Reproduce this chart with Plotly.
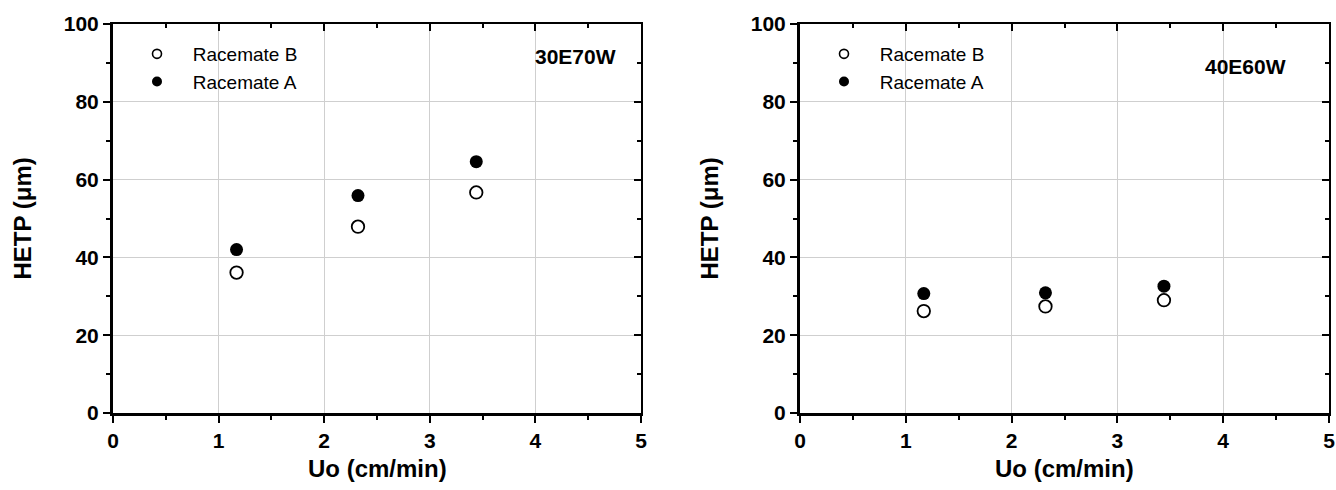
import plotly.graph_objects as go

# ---- data ----
uo = [1.17, 2.32, 3.44]
left_racemate_b = [36.1, 47.9, 56.7]
left_racemate_a = [42.0, 55.9, 64.6]
right_racemate_b = [26.2, 27.4, 29.0]
right_racemate_a = [30.7, 30.9, 32.6]
panel_labels = ["30E70W", "40E60W"]
series_names = ["Racemate B", "Racemate A"]
x_ticks = [0, 1, 2, 3, 4, 5]
y_ticks = [0, 20, 40, 60, 80, 100]

W, H = 1336, 490
FONT = "Liberation Sans, Arial, Helvetica, sans-serif"
NB = "\u00a0"


def px(x):
    return x / W


def py(y):
    return 1 - y / H


panels = [
    dict(x0=113, x1=641, b=left_racemate_b, a=left_racemate_a, label=panel_labels[0],
         lab_x=575, lab_y=57, legend="legend"),
    dict(x0=800, x1=1329, b=right_racemate_b, a=right_racemate_a, label=panel_labels[1],
         lab_x=1245, lab_y=66, legend="legend2"),
]
Y_TOP, Y_BOT = 24, 413

fig = go.Figure()
layout = dict(
    template="none",
    width=W, height=H,
    margin=dict(l=0, r=0, t=0, b=0, pad=0, autoexpand=False),
    paper_bgcolor="white", plot_bgcolor="white",
    font=dict(family=FONT, color="black"),
    showlegend=True,
    annotations=[],
)

open_marker = dict(symbol="circle", size=12.5, color="white", line=dict(color="black", width=1.8))
filled_marker = dict(symbol="circle", size=13, color="black", line=dict(color="black", width=0))

for i, p in enumerate(panels):
    xa = "x" if i == 0 else "x2"
    ya = "y" if i == 0 else "y2"
    xs = "x3" if i == 0 else "x4"
    ys = "y3" if i == 0 else "y4"
    xkey = "xaxis" if i == 0 else "xaxis2"
    ykey = "yaxis" if i == 0 else "yaxis2"
    xskey = "xaxis3" if i == 0 else "xaxis4"
    yskey = "yaxis3" if i == 0 else "yaxis4"

    # data traces
    fig.add_trace(go.Scatter(x=uo, y=p["b"], mode="markers", marker=open_marker,
                             xaxis=xa, yaxis=ya, showlegend=False, name=series_names[0]))
    fig.add_trace(go.Scatter(x=uo, y=p["a"], mode="markers", marker=filled_marker,
                             xaxis=xa, yaxis=ya, showlegend=False, name=series_names[1]))
    # legend entries
    fig.add_trace(go.Scatter(x=[None], y=[None], mode="markers",
                             marker=dict(symbol="circle", size=9, color="white",
                                         line=dict(color="black", width=1.6)),
                             xaxis=xa, yaxis=ya, name=NB * 3 + series_names[0], legend=p["legend"]))
    fig.add_trace(go.Scatter(x=[None], y=[None], mode="markers",
                             marker=dict(symbol="circle", size=10, color="black"),
                             xaxis=xa, yaxis=ya, name=NB * 3 + series_names[1], legend=p["legend"]))
    # trace for the mirrored (top/right) axes
    fig.add_trace(go.Scatter(x=[None], y=[None], mode="markers", xaxis=xs, yaxis=ys,
                             showlegend=False, hoverinfo="skip"))

    dom_x = [px(p["x0"]), px(p["x1"])]
    dom_y = [py(Y_BOT), py(Y_TOP)]

    layout[xkey] = dict(
        domain=dom_x, anchor=ya, range=[0, 5], tickvals=x_ticks, automargin=False,
        showline=True, linecolor="black", linewidth=3,
        ticks="outside", ticklen=7, tickwidth=2, tickcolor="black",
        minor=dict(dtick=0.5, ticks="outside", ticklen=4, tickwidth=2, tickcolor="black", showgrid=False),
        showgrid=True, gridcolor="#cfcfcf", gridwidth=1, zeroline=False,
        tickfont=dict(size=21, family=FONT, weight="bold", color="black"),
        fixedrange=True,
    )
    layout[ykey] = dict(
        domain=dom_y, anchor=xa, range=[0, 100], tickvals=y_ticks, automargin=False,
        showline=True, linecolor="black", linewidth=3,
        ticks="outside", ticklen=7, tickwidth=2, tickcolor="black",
        minor=dict(dtick=10, ticks="outside", ticklen=4, tickwidth=2, tickcolor="black", showgrid=False),
        showgrid=True, gridcolor="#cfcfcf", gridwidth=1, zeroline=False,
        tickfont=dict(size=21, family=FONT, weight="bold", color="black"),
        fixedrange=True,
    )
    layout[xskey] = dict(
        overlaying=xa, side="top", anchor=ys, range=[0, 5], dtick=1, automargin=False,
        showline=True, linecolor="black", linewidth=2,
        ticks="inside", ticklen=7, tickwidth=2, tickcolor="black",
        minor=dict(dtick=0.5, ticks="inside", ticklen=4, tickwidth=2, tickcolor="black", showgrid=False),
        showticklabels=False, showgrid=False, zeroline=False, fixedrange=True,
    )
    layout[yskey] = dict(
        overlaying=ya, side="right", anchor=xs, range=[0, 100], dtick=20, automargin=False,
        showline=True, linecolor="black", linewidth=2,
        ticks="inside", ticklen=7, tickwidth=2, tickcolor="black",
        minor=dict(dtick=10, ticks="inside", ticklen=4, tickwidth=2, tickcolor="black", showgrid=False),
        showticklabels=False, showgrid=False, zeroline=False, fixedrange=True,
    )

    layout[p["legend"]] = dict(
        x=px(p["x0"] + 24), y=py(Y_TOP + 11), xanchor="left", yanchor="top",
        bgcolor="rgba(0,0,0,0)", borderwidth=0, tracegroupgap=0,
        font=dict(size=19, family=FONT, color="black"),
    )

    # panel label
    layout["annotations"].append(dict(
        text=p["label"], x=px(p["lab_x"]), y=py(p["lab_y"]), xref="paper", yref="paper",
        xanchor="center", yanchor="middle", showarrow=False,
        font=dict(size=21, family=FONT, weight="bold", color="black"),
    ))
    # axis titles
    layout["annotations"].append(dict(
        text="Uo (cm/min)", x=px((p["x0"] + p["x1"]) / 2), y=py(468), xref="paper", yref="paper",
        xanchor="center", yanchor="middle", showarrow=False,
        font=dict(size=24, family=FONT, weight="bold", color="black"),
    ))
    layout["annotations"].append(dict(
        text="HETP (\u03bcm)", x=px(p["x0"] - 91), y=py((Y_TOP + Y_BOT) / 2), xref="paper", yref="paper",
        xanchor="center", yanchor="middle", showarrow=False, textangle=-90,
        font=dict(size=24, family=FONT, weight="bold", color="black"),
    ))

fig.update_layout(**layout)
fig.write_html("out.html")
